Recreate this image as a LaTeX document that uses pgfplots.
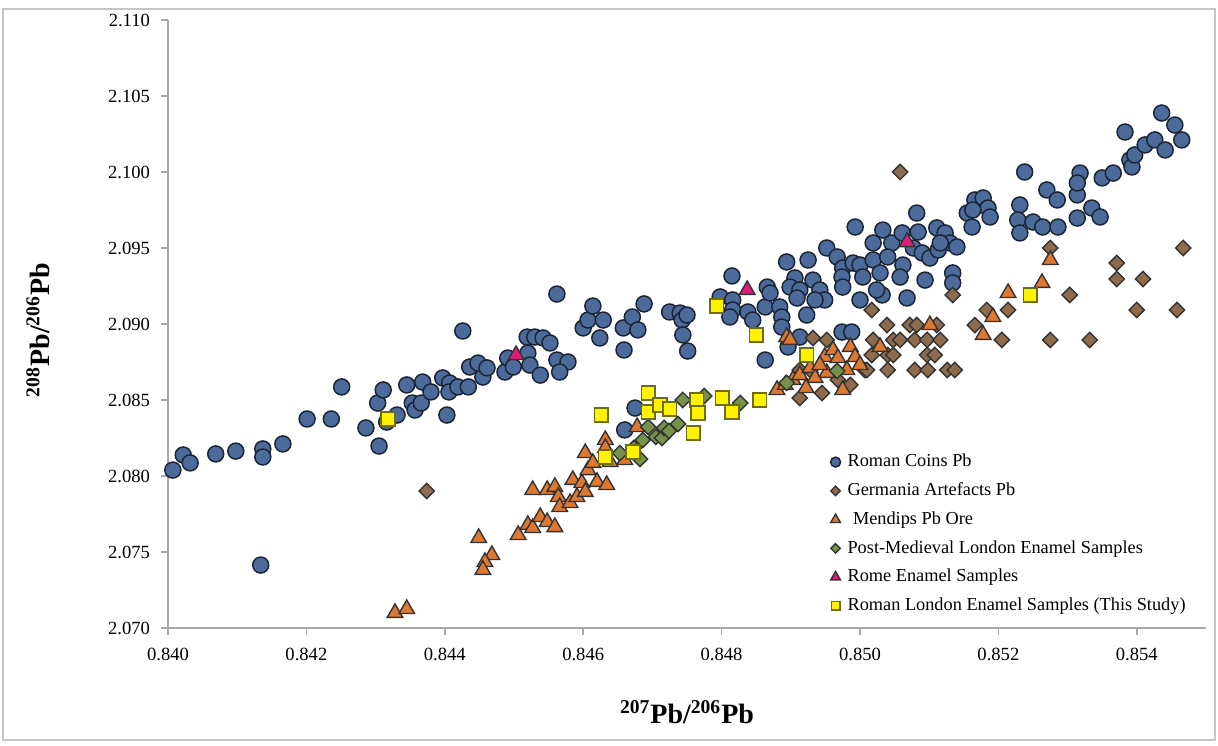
\documentclass[border=0pt]{standalone}
\usepackage{fontspec}
\setmainfont{Liberation Serif}
\usepackage{pgfplots}
\pgfplotsset{compat=1.18}
\definecolor{coinblue}{HTML}{4C6B9B}
\definecolor{coinedge}{HTML}{1C2536}
\definecolor{germbrown}{HTML}{8D6B4C}
\definecolor{mendorange}{HTML}{DD7832}
\definecolor{postgreen}{HTML}{76914B}
\definecolor{romemag}{HTML}{DC1E78}
\definecolor{yedge}{HTML}{6E6E10}
\definecolor{axgray}{HTML}{A8A8A8}
\begin{document}
\begin{tikzpicture}
\begin{axis}[
  scale only axis, width=519pt, height=304pt,
  xmin=0.840, xmax=0.855, ymin=2.070, ymax=2.110,
  clip=false,
  axis x line*=bottom, axis y line*=left,
  axis line style={axgray, line width=1pt},
  tick style={axgray, line width=0.8pt},
  tick align=outside, major tick length=3.5pt,
  xtick={0.840,0.842,0.844,0.846,0.848,0.850,0.852,0.854},
  ytick={2.070,2.075,2.080,2.085,2.090,2.095,2.100,2.105,2.110},
  scaled ticks=false,
  xticklabel style={yshift=-3pt, font=\fontsize{9.3}{10}\selectfont, /pgf/number format/fixed, /pgf/number format/fixed zerofill, /pgf/number format/precision=3, /pgf/number format/assume math mode=true},
  yticklabel style={xshift=-2pt, font=\fontsize{9.3}{10}\selectfont, /pgf/number format/fixed, /pgf/number format/fixed zerofill, /pgf/number format/precision=3, /pgf/number format/assume math mode=true},
  xlabel={\textbf{\textsuperscript{207}Pb/\textsuperscript{206}Pb}},
  ylabel={\textbf{\textsuperscript{208}Pb/\textsuperscript{206}Pb}},
  xlabel style={at={(axis description cs:0.5,-0.138)}, anchor=center, font=\fontsize{14}{16}\selectfont},
  ylabel style={at={(axis description cs:-0.125,0.49)}, anchor=center, font=\fontsize{14}{16}\selectfont},
  only marks,
  legend image code/.code={\draw[#1] plot coordinates {(0.1cm,0cm)};},
  legend image post style={every mark/.append style={scale=0.62}},
  legend style={at={(rel axis cs:0.638,0.293)}, anchor=north west, draw=none, fill=none,
    font=\fontsize{9.15}{11}\selectfont, row sep=2.5pt, inner sep=0pt,
    /tikz/every odd column/.append style={column sep=1.5pt}},
  legend cell align=left,
]
\coordinate (fsw) at (rel axis cs:-0.16185,-0.19408);
\coordinate (fne) at (rel axis cs:1.01156,1.03289);
\coordinate (bsw) at (rel axis cs:-0.1590,-0.1840);
\coordinate (bne) at (rel axis cs:1.0087,1.0180);

% Roman Coins Pb
\addplot[only marks, mark=*, mark size=4pt, mark options={draw=coinedge, fill=coinblue, line width=0.75pt}] table {
x y
0.84007 2.08039
0.84022 2.08138
0.84032 2.08086
0.84069 2.08145
0.84098 2.08164
0.84137 2.08178
0.84137 2.08125
0.84166 2.08211
0.84201 2.08375
0.84236 2.08375
0.84251 2.08586
0.84286 2.08316
0.84305 2.08197
0.84303 2.08480
0.84311 2.08566
0.84316 2.08355
0.84331 2.08401
0.84345 2.08599
0.84353 2.08480
0.84357 2.08434
0.84366 2.08480
0.84368 2.08618
0.84380 2.08553
0.84397 2.08645
0.84403 2.08401
0.84407 2.08612
0.84406 2.08553
0.84419 2.08586
0.84434 2.08586
0.84436 2.08717
0.84448 2.08743
0.84455 2.08651
0.84134 2.07414
0.84426 2.08954
0.84461 2.08711
0.84487 2.08684
0.84491 2.08776
0.84499 2.08717
0.84519 2.08914
0.84530 2.08914
0.84542 2.08908
0.84552 2.08875
0.84520 2.08809
0.84523 2.08730
0.84538 2.08664
0.84562 2.08763
0.84578 2.08750
0.84566 2.08684
0.84562 2.09197
0.84600 2.08974
0.84607 2.09026
0.84614 2.09118
0.84629 2.09026
0.84624 2.08908
0.84658 2.08974
0.84671 2.09046
0.84679 2.08961
0.84659 2.08829
0.84688 2.09132
0.84725 2.09079
0.84740 2.09072
0.84743 2.09026
0.84750 2.09059
0.84744 2.08928
0.84751 2.08822
0.84815 2.09316
0.84798 2.09178
0.84816 2.09158
0.84816 2.09092
0.84812 2.09046
0.84675 2.08447
0.84660 2.08303
0.84838 2.09079
0.84845 2.09026
0.84866 2.09243
0.84863 2.09112
0.84870 2.09204
0.84884 2.09112
0.84887 2.09046
0.84887 2.08980
0.84894 2.09408
0.84906 2.09303
0.84899 2.09243
0.84913 2.09224
0.84909 2.09171
0.84923 2.09059
0.84925 2.09421
0.84932 2.09289
0.84942 2.09224
0.84949 2.09158
0.84935 2.09158
0.84952 2.09500
0.84967 2.09441
0.84975 2.09368
0.84974 2.09309
0.84975 2.09243
0.84990 2.09401
0.85000 2.09388
0.85004 2.09309
0.85019 2.09421
0.85019 2.09533
0.85029 2.09336
0.85032 2.09191
0.85024 2.09224
0.85000 2.09158
0.84974 2.08947
0.84988 2.08947
0.84993 2.09638
0.85033 2.09618
0.85046 2.09533
0.85040 2.09441
0.85061 2.09599
0.85082 2.09730
0.85084 2.09605
0.85077 2.09500
0.85062 2.09388
0.85058 2.09309
0.85068 2.09171
0.85090 2.09467
0.85101 2.09434
0.85111 2.09632
0.85123 2.09599
0.85130 2.09533
0.85140 2.09507
0.85113 2.09487
0.85094 2.09289
0.85134 2.09336
0.85134 2.09270
0.84896 2.08849
0.84913 2.08914
0.84863 2.08763
0.85116 2.09533
0.85155 2.09730
0.85166 2.09816
0.85178 2.09829
0.85185 2.09763
0.85188 2.09704
0.85163 2.09750
0.85162 2.09638
0.85238 2.10000
0.85231 2.09783
0.85228 2.09684
0.85231 2.09599
0.85250 2.09671
0.85264 2.09638
0.85286 2.09638
0.85270 2.09882
0.85285 2.09816
0.85314 2.09697
0.85314 2.09849
0.85318 2.09993
0.85314 2.09928
0.85335 2.09763
0.85347 2.09704
0.85350 2.09961
0.85366 2.09993
0.85383 2.10263
0.85390 2.10079
0.85393 2.10033
0.85397 2.10112
0.85412 2.10178
0.85426 2.10211
0.85441 2.10145
0.85436 2.10388
0.85455 2.10309
0.85465 2.10211
};
\addlegendentry{Roman Coins Pb}

% Germania Artefacts Pb
\addplot[only marks, mark=square*, mark size=2.7pt, mark options={rotate=45, draw=black!80, fill=germbrown, line width=0.7pt}] table {
x y
0.84374 2.07901
0.85058 2.10000
0.85275 2.09500
0.85467 2.09500
0.85371 2.09401
0.85371 2.09296
0.85409 2.09296
0.85134 2.09191
0.85303 2.09191
0.85214 2.09092
0.85183 2.09092
0.85400 2.09092
0.85458 2.09092
0.85017 2.09092
0.85166 2.08993
0.85205 2.08895
0.85275 2.08895
0.85332 2.08895
0.85039 2.08993
0.85072 2.08993
0.85082 2.08993
0.85111 2.08993
0.85019 2.08895
0.85048 2.08895
0.85058 2.08895
0.85079 2.08895
0.85097 2.08895
0.85116 2.08895
0.85017 2.08796
0.85040 2.08796
0.85048 2.08796
0.85097 2.08796
0.85108 2.08796
0.85007 2.08697
0.85040 2.08697
0.85079 2.08697
0.85098 2.08697
0.85126 2.08697
0.85137 2.08697
0.84932 2.08908
0.84952 2.08895
0.84913 2.08697
0.84928 2.08697
0.85010 2.08697
0.84986 2.08599
0.84913 2.08513
0.84945 2.08546
0.84968 2.08632
};
\addlegendentry{Germania Artefacts Pb}

% Mendips Pb Ore
\addplot[only marks, mark=triangle*, mark size=4.5pt, mark options={draw=black!80, fill=mendorange, line width=0.7pt}] table {
x y
0.84328 2.07099
0.84345 2.07125
0.84449 2.07592
0.84468 2.07480
0.84458 2.07434
0.84455 2.07382
0.84506 2.07612
0.84520 2.07678
0.84527 2.07658
0.84538 2.07730
0.84548 2.07697
0.84559 2.07664
0.84527 2.07908
0.84548 2.07908
0.84559 2.07928
0.84564 2.07862
0.84566 2.07796
0.84581 2.07822
0.84591 2.07862
0.84585 2.07974
0.84598 2.07954
0.84603 2.07895
0.84607 2.08039
0.84620 2.07961
0.84634 2.07941
0.84603 2.08151
0.84614 2.08086
0.84632 2.08237
0.84632 2.08184
0.84639 2.08092
0.84660 2.08105
0.84678 2.08322
0.84880 2.08566
0.84894 2.08914
0.85275 2.09421
0.85263 2.09270
0.85214 2.09204
0.85192 2.09046
0.85178 2.08928
0.85101 2.08993
0.84986 2.08849
0.85029 2.08849
0.84981 2.08697
0.84899 2.08895
0.84949 2.08783
0.84961 2.08829
0.84968 2.08776
0.84952 2.08678
0.84892 2.08599
0.84903 2.08632
0.84913 2.08664
0.84928 2.08711
0.84935 2.08645
0.84942 2.08730
0.84993 2.08783
0.85000 2.08730
0.84975 2.08566
0.84922 2.08579
};
\addlegendentry{\hspace{0.3em}Mendips Pb Ore}

% Post-Medieval London Enamel Samples
\addplot[only marks, mark=square*, mark size=2.7pt, mark options={rotate=45, draw=black!80, fill=postgreen, line width=0.7pt}] table {
x y
0.84653 2.08151
0.84673 2.08184
0.84682 2.08112
0.84686 2.08237
0.84694 2.08322
0.84705 2.08257
0.84714 2.08250
0.84717 2.08316
0.84724 2.08296
0.84737 2.08342
0.84744 2.08500
0.84775 2.08526
0.84827 2.08480
0.84894 2.08612
0.84967 2.08691
};
\addlegendentry{Post-Medieval London Enamel Samples}

% Rome Enamel Samples
\addplot[only marks, mark=triangle*, mark size=4.5pt, mark options={draw=black!80, fill=romemag, line width=0.7pt}] table {
x y
0.84503 2.08796
0.84837 2.09224
0.85068 2.09539
};
\addlegendentry{Rome Enamel Samples}

% Roman London Enamel Samples (This Study)
\addplot[only marks, mark=square*, mark size=3.4pt, mark options={draw=yedge, fill=yellow, line width=0.8pt}] table {
x y
0.84318 2.08375
0.84626 2.08401
0.84632 2.08125
0.84672 2.08158
0.84694 2.08546
0.84694 2.08421
0.84711 2.08467
0.84725 2.08441
0.84764 2.08500
0.84766 2.08414
0.84801 2.08513
0.84815 2.08421
0.84855 2.08500
0.84759 2.08283
0.84793 2.09118
0.84850 2.08928
0.84923 2.08796
0.85246 2.09191
};
\addlegendentry{Roman London Enamel Samples (This Study)}
\end{axis}
\path (fsw) rectangle (fne);
\draw[gray!45, line width=1.2pt] (bsw) rectangle (bne);
\end{tikzpicture}
\end{document}
